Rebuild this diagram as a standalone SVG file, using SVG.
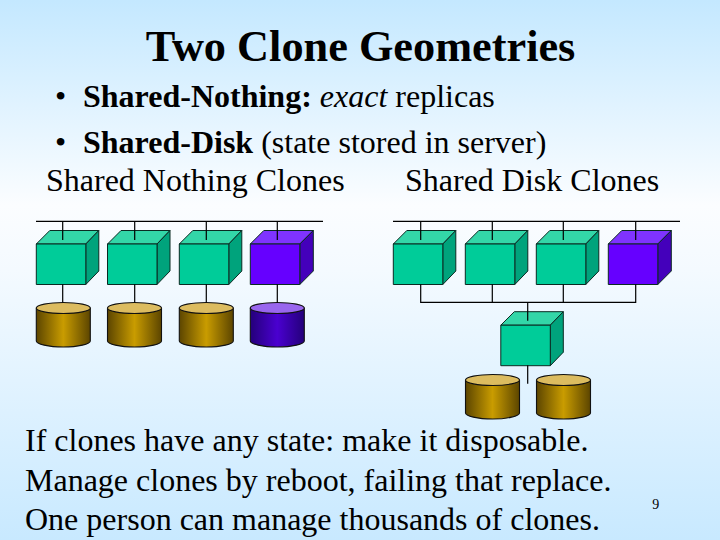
<svg xmlns="http://www.w3.org/2000/svg" xmlns:xlink="http://www.w3.org/1999/xlink" width="720" height="540" viewBox="0 0 720 540">
<style>
text{font-family:"Liberation Serif","Times New Roman",serif;fill:#000}
.t{font-size:32px}
.e{stroke:#0a2a22;stroke-width:1;stroke-linejoin:round}
.k{stroke:#111;stroke-width:1.1;stroke-linejoin:round}
.c{stroke:#000;stroke-width:1.2;fill:none}
</style>
<defs>
<linearGradient id="bg" x1="0" y1="0" x2="0" y2="1">
<stop offset="0" stop-color="#c4e8ff"/><stop offset="0.38" stop-color="#fbfdff"/><stop offset="0.5" stop-color="#f4faff"/><stop offset="1" stop-color="#c8e9ff"/>
</linearGradient>
<linearGradient id="gold" x1="0" y1="0" x2="1" y2="0">
<stop offset="0" stop-color="#5c4500"/><stop offset="0.5" stop-color="#c99c00"/><stop offset="1" stop-color="#5c4500"/>
</linearGradient>
<linearGradient id="indigo" x1="0" y1="0" x2="1" y2="0">
<stop offset="0" stop-color="#24007a"/><stop offset="0.5" stop-color="#4a00d0"/><stop offset="1" stop-color="#24007a"/>
</linearGradient>
<g id="box">
<path class="e" d="M0 13.5L13.5 0H62.5L49.5 13.5Z" fill="#33d6a8"/>
<path class="e" d="M49.5 13.5L62.5 0V40.5L49.5 54Z" fill="#00a37c"/>
<rect class="e" y="13.5" width="49.5" height="40.5" fill="#00cc99"/>
</g>
<g id="vbox">
<path class="e" d="M0 13.5L13.5 0H63L49.5 13.5Z" fill="#7f33ff"/>
<path class="e" d="M49.5 13.5L63 0V40.5L49.5 54Z" fill="#4400bb"/>
<rect class="e" y="13.5" width="49.5" height="40.5" fill="#6600ff"/>
</g>
<g id="cyl">
<path class="k" d="M0 5.5V38.5C0 41.5 12 44.5 27 44.5S54 41.5 54 38.5V5.5Z" fill="url(#gold)"/>
<ellipse class="k" cx="27" cy="5.5" rx="27" ry="5.5" fill="#dcbc60"/>
</g>
<g id="vcyl">
<path class="k" d="M0 5.5V38.5C0 41.5 12 44.5 27 44.5S54 41.5 54 38.5V5.5Z" fill="url(#indigo)"/>
<ellipse class="k" cx="27" cy="5.5" rx="27" ry="5.5" fill="#9966ee"/>
</g>
</defs>
<rect width="720" height="540" fill="url(#bg)"/>
<g id="title"><text x="360.5" y="61" text-anchor="middle" font-size="44.3" font-weight="bold">Two Clone Geometries</text></g>
<g id="bullets">
<text class="t" x="55" y="106.5">•</text>
<text class="t" x="83" y="106.5"><tspan font-weight="bold">Shared-Nothing:</tspan> <tspan font-style="italic">exact</tspan> replicas</text>
<text class="t" x="55" y="152.7">•</text>
<text class="t" x="83" y="152.7"><tspan font-weight="bold">Shared-Disk</tspan> (state stored in server)</text>
</g>
<g id="heads">
<text class="t" x="46" y="190.5">Shared Nothing Clones</text>
<text class="t" x="405" y="190.5">Shared Disk Clones</text>
</g>
<g id="n1"><use href="#box" x="36.3" y="230.5"/><use href="#cyl" x="36.3" y="302.5"/></g>
<g id="n2"><use href="#box" x="107.5" y="230.5"/><use href="#cyl" x="107.5" y="302.5"/></g>
<g id="n3"><use href="#box" x="179.3" y="230.5"/><use href="#cyl" x="179.3" y="302.5"/></g>
<g id="n4"><use href="#vbox" x="250.3" y="230.5"/><use href="#vcyl" x="250.3" y="302.5"/></g>
<g id="n5"><use href="#box" x="393.3" y="230.5"/></g>
<g id="n6"><use href="#box" x="465.3" y="230.5"/></g>
<g id="n7"><use href="#box" x="536.3" y="230.5"/></g>
<g id="n8"><use href="#vbox" x="608.3" y="230.5"/></g>
<g id="n9"><use href="#box" x="500.8" y="311.7"/></g>
<g id="n10"><use href="#cyl" x="465.5" y="374.5"/></g>
<g id="n11"><use href="#cyl" x="536.5" y="374.5"/></g>
<g id="connectors" class="c">
<path d="M36 221.3H323M62.7 221.3V240M134.7 221.3V240M206.3 221.3V240M277.3 221.3V240"/>
<path d="M62.7 284.3V302.5M134.7 284.3V302.5M206.3 284.3V302.5M277.3 284.3V302.5"/>
<path d="M393 221.3H680M420.7 221.3V240M492.3 221.3V240M563.3 221.3V240M635.7 221.3V240"/>
<path d="M420.7 284.3V302.3H635.7V284.3M492.3 284.3V302.3M563.3 284.3V302.3M527.7 302.3V320.7M527.7 365.3V383.7"/>
</g>
<g id="notes">
<text class="t" x="25" y="451">If clones have any state: make it disposable.</text>
<text class="t" x="25" y="491">Manage clones by reboot, failing that replace.</text>
<text class="t" x="25" y="530">One person can manage thousands of clones.</text>
</g>
<g id="page"><text x="652.3" y="509" font-size="14">9</text></g>
</svg>
